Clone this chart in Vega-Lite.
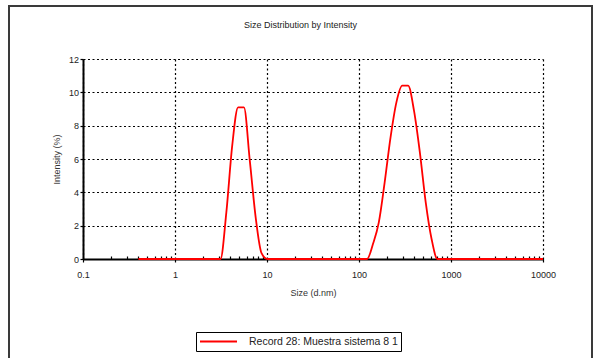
{
  "$schema": "https://vega.github.io/schema/vega-lite/v6.json",
  "autosize": {"type": "none"},
  "padding": {"left": 9, "top": 6, "right": 3, "bottom": 0},
  "width": 583,
  "height": 400,
  "background": "white",
  "title": {"text": "Size Distribution by Intensity", "frame": "group", "anchor": "middle", "offset": -24, "fontSize": 9, "font": "Liberation Sans", "fontWeight": "normal", "color": "#222"},
  "data": {"values": [
    {"size": 0.4, "intensity": 0}, {"size": 0.4632, "intensity": 0}, {"size": 0.5365, "intensity": 0}, {"size": 0.6213, "intensity": 0},
    {"size": 0.7195, "intensity": 0}, {"size": 0.8332, "intensity": 0}, {"size": 0.9649, "intensity": 0}, {"size": 1.117, "intensity": 0},
    {"size": 1.294, "intensity": 0}, {"size": 1.499, "intensity": 0}, {"size": 1.736, "intensity": 0}, {"size": 2.01, "intensity": 0},
    {"size": 2.328, "intensity": 0}, {"size": 2.696, "intensity": 0}, {"size": 3.122, "intensity": 0}, {"size": 3.615, "intensity": 2.8},
    {"size": 4.187, "intensity": 6.8}, {"size": 4.849, "intensity": 9.1}, {"size": 5.615, "intensity": 9.1}, {"size": 6.503, "intensity": 5.9},
    {"size": 7.531, "intensity": 2.5}, {"size": 8.721, "intensity": 0.35}, {"size": 10.1, "intensity": 0}, {"size": 11.7, "intensity": 0},
    {"size": 13.54, "intensity": 0}, {"size": 15.69, "intensity": 0}, {"size": 18.17, "intensity": 0}, {"size": 21.04, "intensity": 0},
    {"size": 24.36, "intensity": 0}, {"size": 28.21, "intensity": 0}, {"size": 32.67, "intensity": 0}, {"size": 37.84, "intensity": 0},
    {"size": 43.82, "intensity": 0}, {"size": 50.75, "intensity": 0}, {"size": 58.77, "intensity": 0}, {"size": 68.06, "intensity": 0},
    {"size": 78.82, "intensity": 0}, {"size": 91.28, "intensity": 0}, {"size": 105.7, "intensity": 0}, {"size": 122.4, "intensity": 0},
    {"size": 141.8, "intensity": 0.9}, {"size": 164.2, "intensity": 2.2}, {"size": 190.1, "intensity": 4.6}, {"size": 220.2, "intensity": 7.3},
    {"size": 255.0, "intensity": 9.4}, {"size": 295.3, "intensity": 10.4}, {"size": 342.0, "intensity": 10.4}, {"size": 396.1, "intensity": 8.9},
    {"size": 458.7, "intensity": 6.4}, {"size": 531.2, "intensity": 3.4}, {"size": 615.1, "intensity": 1.2}, {"size": 712.4, "intensity": 0},
    {"size": 825.0, "intensity": 0}, {"size": 955.4, "intensity": 0}, {"size": 1106, "intensity": 0}, {"size": 1281, "intensity": 0},
    {"size": 1484, "intensity": 0}, {"size": 1718, "intensity": 0}, {"size": 1990, "intensity": 0}, {"size": 2305, "intensity": 0},
    {"size": 2669, "intensity": 0}, {"size": 3091, "intensity": 0}, {"size": 3580, "intensity": 0}, {"size": 4145, "intensity": 0},
    {"size": 4801, "intensity": 0}, {"size": 5559, "intensity": 0}, {"size": 6438, "intensity": 0}, {"size": 7456, "intensity": 0},
    {"size": 8635, "intensity": 0}, {"size": 10000, "intensity": 0}
  ]},
  "layer": [
    {
      "mark": {"type": "line", "strokeWidth": 1.8, "interpolate": "monotone"},
      "encoding": {
        "x": {
          "field": "size", "type": "quantitative",
          "scale": {"type": "log", "domain": [0.1, 10000], "range": [74, 534], "nice": false},
          "axis": {
            "values": [0.1,0.2,0.3,0.4,0.5,0.6,0.7,0.8,0.9,1,2,3,4,5,6,7,8,9,10,20,30,40,50,60,70,80,90,100,200,300,400,500,600,700,800,900,1000,2000,3000,4000,5000,6000,7000,8000,9000,10000],
            "labelExpr": "indexof([0.1,1,10,100,1000,10000], datum.value) >= 0 ? (datum.value < 1 ? '0.1' : format(datum.value, 'd')) : ''",
            "offset": -147,
            "domainColor": "black", "domainWidth": 2,
            "tickColor": "black", "tickWidth": 1.2,
            "tickSize": {"condition": {"test": "indexof([0.1,1,10,100,1000,10000], datum.value) >= 0", "value": 3}, "value": -3},
            "grid": false,
            "labelFont": "Liberation Sans", "labelFontSize": 9, "labelColor": "#222", "labelPadding": 8,
            "labelFlush": false, "labelOverlap": false, "labelBound": false,
            "title": "Size (d.nm)", "titleFont": "Liberation Sans", "titleFontSize": 9, "titleFontWeight": "normal", "titleColor": "#333", "titlePadding": 9
          }
        },
        "y": {
          "field": "intensity", "type": "quantitative",
          "scale": {"domain": [0, 12], "range": [253, 53], "nice": false, "zero": true},
          "axis": {
            "values": [0,1,2,3,4,5,6,7,8,9,10,11,12],
            "labelExpr": "datum.value % 2 === 0 ? datum.label : ''",
            "offset": -74,
            "domainColor": "black", "domainWidth": 2,
            "tickColor": "black", "tickWidth": 1.2,
            "tickSize": {"condition": {"test": "datum.value % 2 === 0", "value": 3}, "value": -4},
            "grid": true, "gridColor": "black", "gridDash": [2, 2.5], "gridWidth": 1.2,
            "gridOpacity": {"condition": {"test": "datum.value % 2 === 0", "value": 1}, "value": 0},
            "labelFont": "Liberation Sans", "labelFontSize": 9, "labelColor": "#222", "labelPadding": 1.5,
            "labelFlush": false, "labelOverlap": false, "labelBound": false,
            "title": "Intensity (%)", "titleFont": "Liberation Sans", "titleFontSize": 9, "titleFontWeight": "normal", "titleColor": "#333", "titlePadding": 7
          }
        },
        "color": {
          "datum": "Record 28: Muestra sistema 8 1", "type": "nominal",
          "scale": {"range": ["#ff0000"]},
          "legend": {
            "orient": "none", "legendX": 187, "legendY": 326, "title": null,
            "strokeColor": "black", "padding": 3,
            "symbolType": "stroke", "symbolSize": 1369, "symbolStrokeWidth": 2, "clipHeight": 13,
            "labelFont": "Liberation Sans", "labelFontSize": 10.5, "labelColor": "#222", "labelOffset": 11, "labelLimit": 300
          }
        }
      }
    },
    {
      "mark": {"type": "line", "opacity": 0},
      "encoding": {
        "x": {
          "field": "size", "type": "quantitative",
          "axis": {
            "orient": "top",
            "values": [0.1, 1, 10, 100, 1000, 10000],
            "grid": true, "gridColor": "black", "gridDash": [2, 2.5], "gridWidth": 1.2,
            "labels": false, "ticks": false, "domain": false, "title": null
          }
        },
        "y": {"field": "intensity", "type": "quantitative"}
      }
    }
  ],
  "resolve": {"axis": {"x": "independent"}},
  "config": {
    "font": "Liberation Sans",
    "view": {"stroke": "#3a3a3a", "strokeWidth": 2}
  }
}
